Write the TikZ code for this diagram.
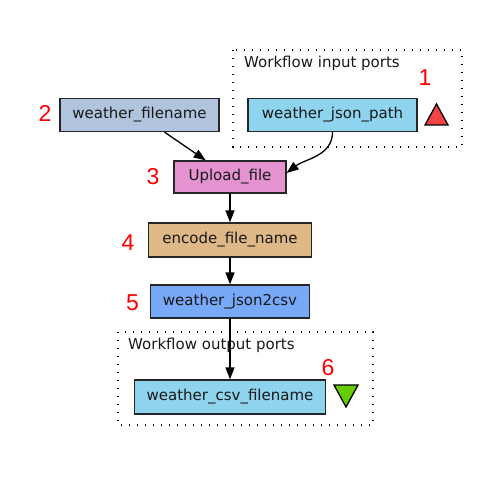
\documentclass[tikz,border=0pt]{standalone}
\usepackage{fontspec}
\setmainfont{DejaVu Sans}
\newfontfamily\digitfont{Liberation Sans}
\usetikzlibrary{arrows.meta}
\definecolor{portblue}{HTML}{8ED4EE}
\definecolor{constblue}{HTML}{B0C4DE}
\definecolor{uploadpink}{HTML}{E492D0}
\definecolor{encodetan}{HTML}{DEB887}
\definecolor{convblue}{HTML}{78A9F8}
\definecolor{trired}{HTML}{F54242}
\definecolor{trigreen}{HTML}{66CC00}

\begin{document}
\begin{tikzpicture}[x=1pt, y=-1pt,
  every node/.style={font=\fontsize{15pt}{18pt}\selectfont, text=black!90},
  proc/.style={draw=black!85, line width=1.3pt, minimum height=33pt, inner sep=0pt},
  num/.style={font=\digitfont\fontsize{23pt}{26pt}\selectfont, text=red, inner sep=0pt},
  cluster/.style={line width=1.4pt, dash pattern=on 1.4pt off 6.6pt},
  arr/.style={line width=1.3pt, -{Triangle[length=12pt, width=9pt]}}]
  \useasboundingbox (0,0) rectangle (494,502);
  % clusters of workflow ports
  \draw[cluster] (233,50) rectangle (462,147);
  \draw[cluster] (118,332) rectangle (373,425);
  \node[anchor=base west, inner sep=0pt] (inlbl) at (244,68) {Workflow input ports};
  \node[anchor=base west, inner sep=0pt] (outlbl) at (128,349) {Workflow output ports};
  % processors and ports
  \node[proc, fill=constblue, minimum width=159pt] (fname) at (139.5,115) {weather\_filename};
  \node[proc, fill=portblue, minimum width=169pt] (jpath) at (332.5,115) {weather\_json\_path};
  \node[proc, fill=uploadpink, minimum width=112pt, minimum height=32pt] (upload) at (230,177) {Upload\_file};
  \node[proc, fill=encodetan, minimum width=163pt, minimum height=34pt] (encode) at (230,240) {encode\_file\_name};
  \node[proc, fill=convblue, minimum width=159pt] (conv) at (230,301.5) {weather\_json2csv};
  \node[proc, fill=portblue, minimum width=191pt, minimum height=34pt] (csvout) at (230,397) {weather\_csv\_filename};
  % port markers
  \filldraw[fill=trired, draw=black, line width=1.3pt, line join=miter] (436.5,104) -- (448,125) -- (425,125) -- cycle;
  \filldraw[fill=trigreen, draw=black, line width=1.3pt, line join=miter] (334,385) -- (358,385) -- (346,407) -- cycle;
  % step numbers
  \node[num] (n1) at (425,78) {1};
  \node[num] (n2) at (45,113) {2};
  \node[num] (n3) at (153,176.5) {3};
  \node[num] (n4) at (128,243) {4};
  \node[num] (n5) at (132.5,303) {5};
  \node[num] (n6) at (328,367.5) {6};
  % data links
  \draw[arr] (fname) -- (upload);
  \draw[arr] (jpath.south) .. controls +(0,24) and +(18,-14) .. ([yshift=4pt]upload.east);
  \draw[arr] (upload) -- (encode);
  \draw[arr] (encode) -- (conv);
  \draw[arr] (conv) -- (csvout);
\end{tikzpicture}
\end{document}
